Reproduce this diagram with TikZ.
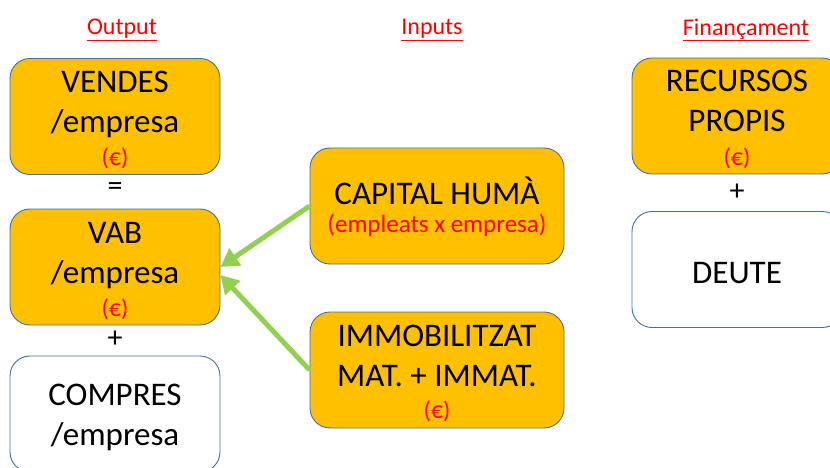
\documentclass[tikz,border=0pt]{standalone}
\usepackage{fontspec}
\setmainfont{Carlito}
\usepackage{tikz}
\usetikzlibrary{arrows.meta,positioning}
\definecolor{boxorange}{HTML}{FFC000}
\definecolor{boxedge}{HTML}{41719C}
\definecolor{arrowgreen}{HTML}{92D050}
\definecolor{headred}{HTML}{FF0000}
\newcommand{\euronote}[2][24]{{\fontsize{#1}{28}\selectfont\color{headred}#2}}
\newcommand{\tallstrut}{\rule{0pt}{29pt}}

\begin{document}
\begin{tikzpicture}[x=1pt, y=-1pt,
    stepbox/.style={draw=boxedge, line width=0.9pt, rounded corners=20pt, inner sep=0pt,
        minimum width=210pt, minimum height=116pt, align=center,
        font=\fontsize{33}{40}\selectfont},
    filledbox/.style={stepbox, fill=boxorange},
    inbox/.style={filledbox, minimum width=254pt},
    header/.style={font=\fontsize{24}{28}\selectfont, text=headred},
    opsign/.style={font=\fontsize{30}{34}\selectfont},
    feed/.style={draw=arrowgreen, line width=5pt, -{Triangle[length=18pt,width=20pt]}}]
    \useasboundingbox (0,0) rectangle (830,468);
    \clip (0,0) rectangle (830,468);

    % Column headers
    \node[header] (hout) at (122,30) {\underline{Output}};
    \node[header] (hin) at (432,30) {\underline{Inputs}};
    \node[header] (hfin) at (746,30) {\underline{Finançament}};

    % Output column
    \node[filledbox] (vendes) at (115,116.5) {\tallstrut VENDES\\/empresa\\[-7pt]\euronote{(€)}};
    \node[opsign] (eq) at (115,189) {=};
    \node[filledbox] (vab) at (115,267) {\tallstrut VAB\\/empresa\\[-7pt]\euronote{(€)}};
    \node[opsign] (plusa) at (115,339) {+};
    \node[stepbox] (compres) at (115,414) {\tallstrut COMPRES\\/empresa};

    % Inputs column
    \node[inbox] (capital) at (437,206) {\tallstrut CAPITAL HUMÀ\\[-12pt]\euronote[25]{(empleats x empresa)}};
    \node[inbox] (immob) at (437,370) {\tallstrut IMMOBILITZAT\\MAT. + IMMAT.\\[-8pt]\euronote{(€)}};

    % Financing column
    \node[filledbox] (recursos) at (737,116) {\tallstrut RECURSOS\\PROPIS\\[-6pt]\euronote{(€)}};
    \node[opsign] (plusb) at (737,192) {+};
    \node[stepbox] (deute) at (737,269.5) {\tallstrut DEUTE};

    % Inputs feed the value added
    \draw[feed] (capital.west) -- (vab.east);
    \draw[feed] (immob.west) -- ([yshift=-8pt]vab.east);
\end{tikzpicture}
\end{document}
